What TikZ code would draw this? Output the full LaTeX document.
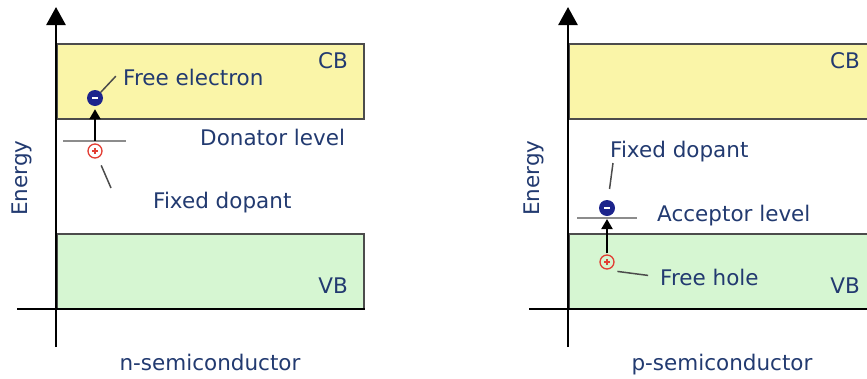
\documentclass[tikz,border=0pt]{standalone}
\usepackage{fontspec}
\setmainfont{DejaVu Sans}
\usetikzlibrary{arrows.meta,positioning}
\definecolor{cbyellow}{RGB}{250,245,168}
\definecolor{vbgreen}{RGB}{214,246,210}
\definecolor{txtblue}{RGB}{34,58,112}
\definecolor{eblue}{RGB}{28,36,140}
\definecolor{hred}{RGB}{226,62,52}

\begin{document}
\begin{tikzpicture}[x=1pt,y=-1pt,>={Triangle[width=11pt,length=10pt]},
  lbl/.style={text=txtblue,font=\fontsize{21.5}{25}\selectfont,inner sep=0pt},
  band/.style={draw=black!70,line width=1.2pt},
  axis/.style={line width=2.6pt},
  level/.style={draw=black!45,line width=2.4pt},
  leader/.style={draw=black!70,line width=1.5pt},
  electron/.style={circle,fill=eblue,minimum size=16pt,inner sep=0pt,
    path picture={\draw[white,line width=2pt]
      ([xshift=-3pt]path picture bounding box.center) --
      ([xshift=3pt]path picture bounding box.center);}},
  hole/.style={circle,draw=hred,line width=1.3pt,minimum size=14pt,inner sep=0pt,
    path picture={\draw[hred,line width=1.3pt]
      ([xshift=-3pt]path picture bounding box.center) --
      ([xshift=3pt]path picture bounding box.center)
      ([yshift=-3pt]path picture bounding box.center) --
      ([yshift=3pt]path picture bounding box.center);}}]
  \useasboundingbox (0,0) rectangle (867,378);

  % common frame of both panels
  \foreach \dx/\kind in {0/n,512/p}{
    \begin{scope}[xshift=\dx pt]
      \filldraw[band,fill=cbyellow] (57,44) rectangle (364,119);
      \filldraw[band,fill=vbgreen] (57,234) rectangle (364,309);
      \node[lbl,anchor=base east] (cb-\kind) at (348,68) {CB};
      \node[lbl,anchor=base east] (vb-\kind) at (348,293) {VB};
      \draw[axis,-{Triangle[width=19pt,length=18pt]}] (56,347) -- (56,7);
      \draw[axis] (17,309) -- (365,309);
      \node[lbl,rotate=90] (energy-\kind) at (22,178) {Energy};
      \node[lbl,anchor=base] (title-\kind) at (210,370) {\kind-semiconductor};
    \end{scope}
  }

  % n-semiconductor
  \draw[level] (63,141) -- (126,141);
  \coordinate (don) at (95,141);
  \node[electron] (el-n) at (95,98) {};
  \node[hole] (ho-n) at (95,151) {};
  \draw[->,line width=2pt,shorten >=3pt] (don) -- (el-n);
  \node[lbl,anchor=base west] (fe-n) at (123,85) {Free electron};
  \draw[leader] (el-n.north east) -- ++(15,-16);
  \node[lbl,anchor=base west] (dl-n) at (200,145) {Donator level};
  \node[lbl,anchor=base west] (fd-n) at (153,208) {Fixed dopant};
  \coordinate (fd-n-tip) at (111,188);
  \draw[leader,shorten <=8pt] (ho-n) -- (fd-n-tip);

  % p-semiconductor
  \draw[level] (577,218) -- (637,218);
  \coordinate (acc) at (607,219);
  \node[electron] (el-p) at (607,208) {};
  \node[hole] (ho-p) at (607,262) {};
  \draw[->,line width=2pt,shorten <=1pt] (ho-p) -- (acc);
  \node[lbl,anchor=base west] (fd-p) at (610,157) {Fixed dopant};
  \coordinate (fd-p-tip) at (613,163);
  \draw[leader,shorten <=11pt] (el-p) -- (fd-p-tip);
  \node[lbl,anchor=base west] (al-p) at (657,221) {Acceptor level};
  \node[lbl,anchor=base west] (fh-p) at (660,285) {Free hole};
  \draw[leader,shorten >=12pt] ([shift={(5,4)}]ho-p.south east) -- (fh-p.west);
\end{tikzpicture}
\end{document}
